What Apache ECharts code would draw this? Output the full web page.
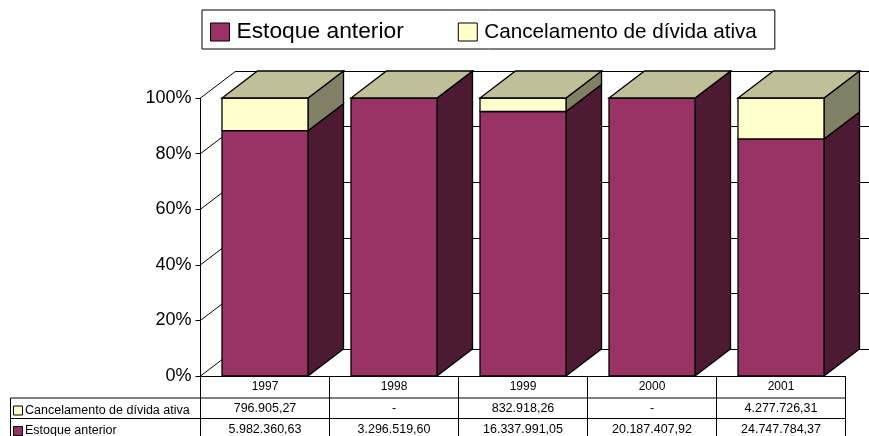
<!DOCTYPE html>
<html><head><meta charset="utf-8">
<style>html,body{margin:0;padding:0;background:#fff;overflow:hidden}#c{width:869px;height:436px}</style>
<script src="https://cdn.jsdelivr.net/npm/echarts@6/dist/echarts.min.js"></script>
</head><body><div id="c"></div>
<script>
const categories = ['1997','1998','1999','2000','2001'];
const estoqueAnterior = [5982360.63, 3296519.60, 16337991.05, 20187407.92, 24747784.37];
const cancelamento = [796905.27, 0, 832918.26, 0, 4277726.31];
const nameEstoque = 'Estoque anterior';
const nameCancel = 'Cancelamento de dívida ativa';
const percentTicks = [0,20,40,60,80,100];

const FONT = '"Liberation Sans", Arial, sans-serif';
const DX = 35.5, DY = 27;

function fmt(v){
  if(!v) return '-';
  const p = v.toFixed(2).split('.');
  return p[0].replace(/\B(?=(\d{3})+$)/g,'.') + ',' + p[1];
}
const estoqueRows = categories.map((c,i)=>[i,0,100*estoqueAnterior[i]/(estoqueAnterior[i]+cancelamento[i])]);
const cancelRows = categories.map((c,i)=>[i,estoqueRows[i][2],100]);

function poly(points, fill){
  return {type:'polygon', shape:{points}, style:{fill, stroke:'#000', lineWidth:1.3, lineJoin:'miter'}};
}
function barItem(front, side, top){
  return function(params, api){
    const i = api.value(0);
    const lo = api.coord([i, api.value(1)]);
    const hi = api.coord([i, api.value(2)]);
    const w = api.size([1,0])[0]*2/3;
    const x0 = lo[0]-w/2, x1 = lo[0]+w/2;
    const children = [
      poly([[x1,lo[1]],[x1+DX,lo[1]-DY],[x1+DX,hi[1]-DY],[x1,hi[1]]], side),
      poly([[x0,lo[1]],[x1,lo[1]],[x1,hi[1]],[x0,hi[1]]], front)
    ];
    if(top) children.push(poly([[x0,hi[1]],[x1,hi[1]],[x1+DX,hi[1]-DY],[x0+DX,hi[1]-DY]], top));
    return {type:'group', children};
  };
}
function wallDiagonal(params, api){
  const p = api.coord([0, api.value(0)]);
  const x = p[0]-api.size([1,0])[0]/2;
  return {type:'line', shape:{x1:x,y1:p[1],x2:x+DX,y2:p[1]-DY}, style:{stroke:'#000',lineWidth:1}};
}
function tableItem(params, api){
  const i = api.value(0);
  const p = api.coord([i,0]);
  const band = api.size([1,0])[0];
  const y0 = p[1], r1 = y0+22, r2 = y0+42.5, end = 440;
  const x0 = p[0]-band/2, x1 = p[0]+band/2;
  const ln = (a,b,c,d)=>({type:'line',shape:{x1:a,y1:b,x2:c,y2:d},style:{stroke:'#000',lineWidth:1}});
  const tx = (t,x,y,align)=>({type:'text',style:{text:t,x,y,align:align||'center',verticalAlign:'middle',font:'12.5px '+FONT,fill:'#000'}});
  const ch = [ln(x1,y0,x1,end), ln(x0,r1,x1,r1), ln(x0,r2,x1,r2),
    tx(fmt(cancelamento[i]),p[0],r1+11), tx(fmt(estoqueAnterior[i]),p[0],r2+11.5)];
  if(i===0){
    const left = 10.5;
    ch.push(ln(x0,y0,x0,end), ln(left,r1,x0,r1), ln(left,r2,x0,r2), ln(left,r1,left,end));
    ch.push({type:'rect',shape:{x:13.5,y:r1+8,width:9,height:9},style:{fill:'#FFFFCC',stroke:'#000',lineWidth:1}});
    ch.push({type:'rect',shape:{x:13.5,y:r2+8,width:9,height:9},style:{fill:'#993366',stroke:'#000',lineWidth:1}});
    ch.push(tx(nameCancel,25,r1+12.5,'left'), tx(nameEstoque,25,r2+12.5,'left'));
  }
  return {type:'group',children:ch};
}

const chart = echarts.init(document.getElementById('c'), null, {renderer:'canvas'});
chart.setOption({
  animation:false,
  backgroundColor:'#fff',
  textStyle:{fontFamily:FONT},
  legend:{
    left:202, top:10, orient:'horizontal', icon:'rect',
    padding:[10.5,18,5.5,8], itemGap:54, itemWidth:19, itemHeight:18,
    borderColor:'#000', borderWidth:1, backgroundColor:'#fff',
    selectedMode:false,
    itemStyle:{borderColor:'#000', borderWidth:1},
    data:[
      {name:nameEstoque, textStyle:{fontSize:22.8,color:'#000',fontFamily:FONT,padding:[0,0,4,2]}},
      {name:nameCancel, textStyle:{fontSize:20.7,color:'#000',fontFamily:FONT,padding:[0,0,9,2]}}
    ]
  },
  grid:[
    {left:200.5, top:98, width:645, height:278, containLabel:false},
    {left:200.5+DX, top:98-DY, width:645, height:278, containLabel:false}
  ],
  xAxis:[
    {type:'category', gridIndex:0, data:categories,
     axisLine:{show:true,lineStyle:{color:'#000',width:1}}, axisTick:{show:false},
     axisLabel:{color:'#000',fontSize:12,margin:5,fontFamily:FONT,interval:0}, splitLine:{show:false}, z:5},
    {type:'category', gridIndex:1, data:categories,
     axisLine:{show:false}, axisTick:{show:false}, axisLabel:{show:false}, splitLine:{show:false}}
  ],
  yAxis:[
    {type:'value', gridIndex:0, min:0, max:100, interval:20,
     axisLine:{show:true,lineStyle:{color:'#000',width:1}},
     axisTick:{show:true,length:5,lineStyle:{color:'#000',width:1}},
     axisLabel:{color:'#000',fontSize:18,margin:9,fontFamily:FONT,formatter:'{value}%'},
     splitLine:{show:false}},
    {type:'value', gridIndex:1, min:0, max:100, interval:20,
     axisLine:{show:false}, axisTick:{show:false}, axisLabel:{show:false},
     splitLine:{show:true,lineStyle:{color:'#000',width:1,type:'solid'}}}
  ],
  series:[
    {type:'custom', name:'wall', xAxisIndex:0, yAxisIndex:0, silent:true, clip:false, z:1,
     data:percentTicks.map(v=>[v]), encode:{y:0}, renderItem:wallDiagonal},
    {type:'custom', name:nameEstoque, xAxisIndex:0, yAxisIndex:0, silent:true, clip:false, z:2,
     itemStyle:{color:'#993366'}, data:estoqueRows, renderItem:barItem('#993366','#4D1A33',null)},
    {type:'custom', name:nameCancel, xAxisIndex:0, yAxisIndex:0, silent:true, clip:false, z:3,
     itemStyle:{color:'#FFFFCC'}, data:cancelRows, renderItem:barItem('#FFFFCC','#808066','#BFBF99')},
    {type:'custom', name:'tabela', xAxisIndex:0, yAxisIndex:0, silent:true, clip:false, z:4,
     data:categories.map((c,i)=>[i]), encode:{x:0}, renderItem:tableItem}
  ]
});
</script></body></html>
